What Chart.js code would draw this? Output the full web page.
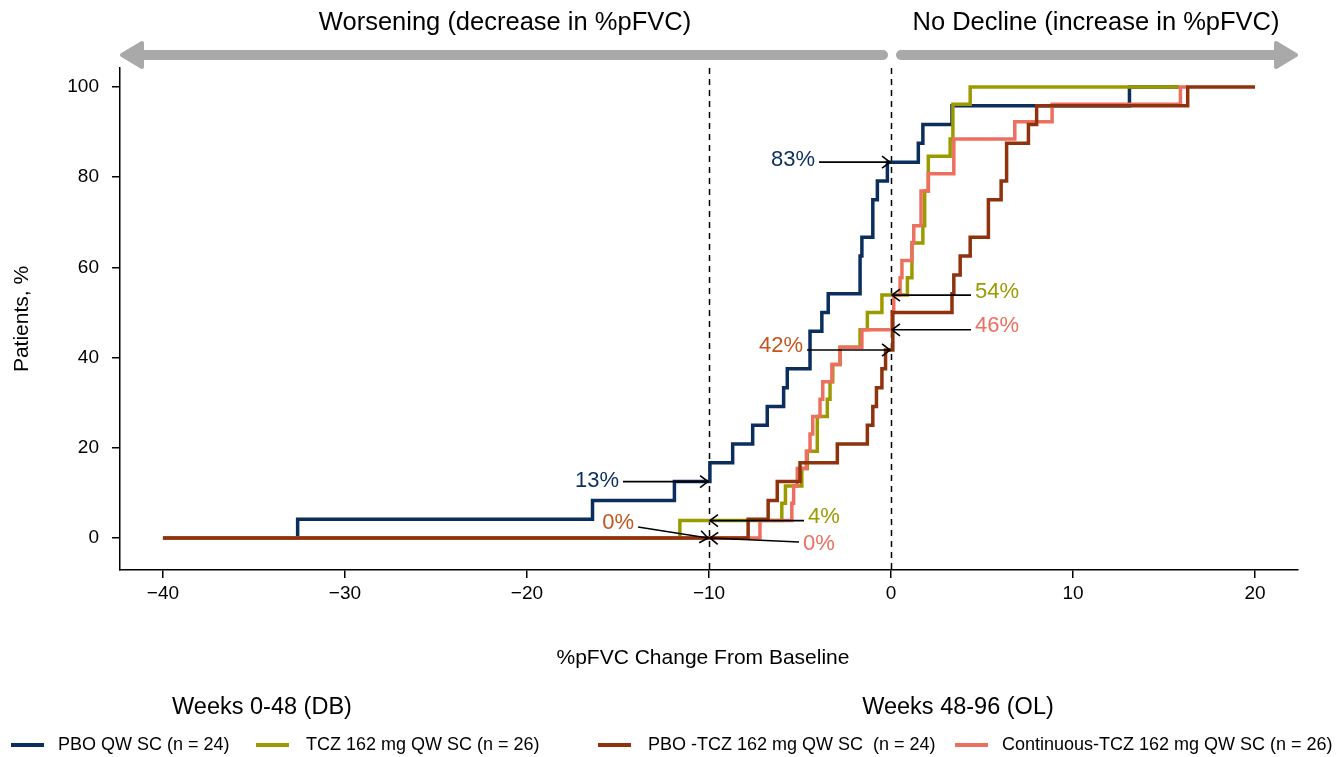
<!DOCTYPE html>
<html>
<head>
<meta charset="utf-8">
<script src="https://cdn.jsdelivr.net/npm/chart.js@4.4.1/dist/chart.umd.min.js"></script>
<style>
  html, body { margin: 0; padding: 0; background: #fff; }
</style>
</head>
<body>
<canvas id="grafico" width="1342" height="757"></canvas>
<script>
// ================= DADOS (curvas cumulativas) =================
// PBO QW SC (n = 24)
const pboX = [-40, -32.6, -16.4, -11.9, -9.95, -8.7, -7.6, -6.8, -5.9, -5.7, -4.45, -3.8, -3.45, -1.7, -1.6, -1.0, -0.75, -0.2, 1.5, 1.75, 3.35, 13.1, 15.8];
const pboY = [0, 4.17, 8.33, 12.5, 16.67, 20.83, 25, 29.17, 33.33, 37.5, 45.83, 50, 54.17, 62.5, 66.67, 75, 79.17, 83.33, 87.5, 91.67, 95.83, 100, 100];

// TCZ 162 mg QW SC (n = 26)
const tczX = [-40, -11.6, -6.0, -5.8, -4.9, -4.6, -4.05, -3.5, -3.35, -3.2, -2.8, -1.7, -1.3, -0.5, 0.9, 1.15, 1.75, 1.85, 2.05, 3.25, 3.4, 4.35, 15.8];
const tczY = [0, 3.85, 7.69, 11.54, 15.38, 19.23, 26.92, 30.77, 34.62, 38.46, 42.31, 46.15, 50, 53.85, 57.69, 65.38, 69.23, 76.92, 84.62, 88.46, 96.15, 100, 100];

// PBO -TCZ 162 mg QW SC (n = 24)
const pboTczX = [-40, -7.85, -6.75, -6.25, -5.0, -2.95, -1.3, -1.0, -0.8, -0.5, -0.3, 0.1, 3.35, 3.45, 3.8, 4.35, 5.35, 6.05, 6.35, 7.55, 8.0, 16.3, 20];
const pboTczY = [0, 4.17, 8.33, 12.5, 16.67, 20.83, 25, 29.17, 33.33, 37.5, 41.67, 50, 54.17, 58.33, 62.5, 66.67, 75, 79.17, 87.5, 91.67, 95.83, 100, 100];

// Continuous-TCZ 162 mg QW SC (n = 26)
const contX = [-40, -7.2, -5.45, -5.35, -5.15, -4.65, -4.45, -4.3, -3.9, -3.75, -3.25, -2.8, -1.6, 0.05, 0.15, 0.5, 0.6, 1.15, 1.25, 1.65, 2.05, 3.45, 6.8, 8.85, 15.9, 16.3];
const contY = [0, 3.85, 7.69, 11.54, 15.38, 19.23, 23.08, 26.92, 30.77, 34.62, 38.46, 42.31, 46.15, 50, 53.85, 57.69, 61.54, 65.38, 69.23, 76.92, 80.77, 88.46, 92.31, 96.15, 100, 100];

const nomes = ['PBO QW SC (n = 24)', 'TCZ 162 mg QW SC (n = 26)', 'PBO -TCZ 162 mg QW SC  (n = 24)', 'Continuous-TCZ 162 mg QW SC (n = 26)'];
const grupos = ['Weeks 0-48 (DB)', 'Weeks 48-96 (OL)'];
const xTicks = [-40, -30, -20, -10, 0, 10, 20];
const yTicks = [0, 20, 40, 60, 80, 100];
const linhasRef = [-10, 0];

// ================= CORES / FONTES =================
const COR_PBO = '#0b2e5e';
const COR_TCZ = '#9b9b00';
const COR_PBOTCZ = '#8e330e';
const COR_CONT = '#ec6f5f';
const COR_ROTULO_PBOTCZ = '#c4561c';
const FONTE = '"Liberation Sans", Arial, Helvetica, sans-serif';

function pares(xs, ys) {
  return xs.map((x, i) => ({ x: x, y: ys[i] }));
}

// rótulos com seta (alvo em unidades do gráfico)
const marcadores = [
  { txt: '83%', cor: COR_PBO, x: 0, y: 83.33, lado: -1, comp: 72, dy: 0, tdy: -2 },
  { txt: '13%', cor: COR_PBO, x: -10, y: 12.5, lado: -1, comp: 86, dy: 0, tdy: -1 },
  { txt: '42%', cor: COR_ROTULO_PBOTCZ, x: 0, y: 41.67, lado: -1, comp: 84, dy: 0, tdy: -4 },
  { txt: '54%', cor: COR_TCZ, x: 0, y: 53.85, lado: 1, comp: 80, dy: 0, tdy: -3 },
  { txt: '46%', cor: COR_CONT, x: 0, y: 46.15, lado: 1, comp: 80, dy: 0, tdy: -4 },
  { txt: '4%', cor: COR_TCZ, x: -10, y: 3.85, lado: 1, comp: 95, dy: 0, tdy: -4 },
  { txt: '0%', cor: COR_CONT, x: -10, y: 0, lado: 1, comp: 90, dy: 4, tdy: 2 },
  { txt: '0%', cor: COR_ROTULO_PBOTCZ, x: -10, y: 0, lado: -1, comp: 71, dy: -11, tdy: -4 }
];

function seta(ctx, x0, y0, x1, y1) {
  ctx.strokeStyle = '#000';
  ctx.lineWidth = 1.6;
  ctx.beginPath();
  ctx.moveTo(x0, y0);
  ctx.lineTo(x1, y1);
  ctx.stroke();
  const ang = Math.atan2(y1 - y0, x1 - x0);
  const L = 10;
  ctx.beginPath();
  ctx.moveTo(x1 - L * Math.cos(ang - 0.65), y1 - L * Math.sin(ang - 0.65));
  ctx.lineTo(x1, y1);
  ctx.lineTo(x1 - L * Math.cos(ang + 0.65), y1 - L * Math.sin(ang + 0.65));
  ctx.stroke();
}

function setaCinza(ctx, xA, xB, y, pontaEsq) {
  // seta grossa cinza no topo
  ctx.strokeStyle = '#a9a9a9';
  ctx.fillStyle = '#a9a9a9';
  ctx.lineWidth = 10;
  ctx.lineCap = 'round';
  ctx.beginPath();
  ctx.moveTo(xA, y);
  ctx.lineTo(xB, y);
  ctx.stroke();
  ctx.lineCap = 'butt';
  const tip = pontaEsq ? xA - 12 : xB + 12;
  const s = pontaEsq ? 1 : -1;
  ctx.lineJoin = 'round';
  ctx.lineWidth = 4;
  ctx.beginPath();
  ctx.moveTo(tip, y);
  ctx.lineTo(tip + s * 20, y - 12);
  ctx.lineTo(tip + s * 20, y + 12);
  ctx.closePath();
  ctx.fill();
  ctx.stroke();
}

// ================= PLUGIN DE DESENHO =================
const extras = {
  id: 'extras',
  beforeDatasetsDraw(chart) {
    const { ctx, chartArea, scales } = chart;
    ctx.save();
    ctx.strokeStyle = '#000';
    ctx.lineWidth = 1.5;
    ctx.setLineDash([6, 5]);
    linhasRef.forEach(v => {
      const px = Math.round(scales.x.getPixelForValue(v)) + 0.5;
      ctx.beginPath();
      ctx.moveTo(px, chartArea.top);
      ctx.lineTo(px, chartArea.bottom);
      ctx.stroke();
    });
    ctx.restore();
  },
  afterDatasetsDraw(chart) {
    const { ctx, scales } = chart;
    ctx.save();
    ctx.font = '22px ' + FONTE;
    ctx.textBaseline = 'middle';
    marcadores.forEach(m => {
      const px = scales.x.getPixelForValue(m.x);
      const py = scales.y.getPixelForValue(m.y);
      const ix = px + m.lado * m.comp;
      const iy = py + m.dy;
      seta(ctx, ix, iy, px + (m.lado > 0 ? 1 : -1), py);
      ctx.fillStyle = m.cor;
      ctx.textAlign = m.lado > 0 ? 'left' : 'right';
      ctx.fillText(m.txt, ix + m.lado * 4, iy + m.tdy);
    });
    ctx.restore();
  },
  afterDraw(chart) {
    const { ctx, chartArea } = chart;
    ctx.save();
    // setas e textos do topo
    setaCinza(ctx, 134, 883, 55, true);
    setaCinza(ctx, 901, 1284, 55, false);
    ctx.fillStyle = '#000';
    ctx.font = '25.5px ' + FONTE;
    ctx.textAlign = 'center';
    ctx.textBaseline = 'middle';
    ctx.fillText('Worsening (decrease in %pFVC)', 505, 23);
    ctx.fillText('No Decline (increase in %pFVC)', 1096, 23);

    // títulos dos eixos
    ctx.font = '21px ' + FONTE;
    ctx.fillText('%pFVC Change From Baseline', (chartArea.left + chartArea.right) / 2 - 6, 658);
    ctx.save();
    ctx.translate(22, (chartArea.top + chartArea.bottom) / 2);
    ctx.rotate(-Math.PI / 2);
    ctx.fillText('Patients, %', 0, 0);
    ctx.restore();

    // legenda
    ctx.font = '23.5px ' + FONTE;
    ctx.fillText(grupos[0], 262, 708);
    ctx.fillText(grupos[1], 958, 708);
    const leg = [
      { x: 11, tx: 58 },
      { x: 256, tx: 306 },
      { x: 598, tx: 648 },
      { x: 955, tx: 1002 }
    ];
    ctx.font = '18px ' + FONTE;
    ctx.textAlign = 'left';
    chart.data.datasets.forEach((ds, i) => {
      const it = leg[i];
      ctx.strokeStyle = ds.borderColor;
      ctx.lineWidth = 4;
      ctx.beginPath();
      ctx.moveTo(it.x, 745);
      ctx.lineTo(it.x + 33, 745);
      ctx.stroke();
      ctx.fillStyle = '#000';
      ctx.fillText(ds.label, it.tx, 745);
    });
    ctx.restore();
  }
};

function serie(label, xs, ys, cor, ordem) {
  return {
    label: label,
    data: pares(xs, ys),
    borderColor: cor,
    backgroundColor: cor,
    borderWidth: 3.5,
    stepped: true,
    pointRadius: 0,
    fill: false,
    order: ordem
  };
}

const ctx = document.getElementById('grafico').getContext('2d');
const grafico = new Chart(ctx, {
  type: 'line',
  data: {
    datasets: [
      serie(nomes[0], pboX, pboY, COR_PBO, 3),
      serie(nomes[1], tczX, tczY, COR_TCZ, 2),
      serie(nomes[2], pboTczX, pboTczY, COR_PBOTCZ, 0),
      serie(nomes[3], contX, contY, COR_CONT, 1)
    ]
  },
  options: {
    responsive: false,
    animation: false,
    devicePixelRatio: 1,
    layout: { padding: { left: 0, right: 44, top: 68, bottom: 147 } },
    plugins: {
      legend: { display: false },
      tooltip: { enabled: false }
    },
    scales: {
      x: {
        type: 'linear',
        min: -42.36,
        max: 22.36,
        afterBuildTicks: s => { s.ticks = xTicks.map(v => ({ value: v })); },
        afterFit: s => { s.height = 40; },
        border: { display: true, color: '#000', width: 1.5 },
        grid: { drawOnChartArea: false, drawTicks: true, tickLength: 8, color: '#000', lineWidth: 1.5 },
        ticks: {
          color: '#000',
          font: { family: FONTE, size: 19 },
          padding: 4,
          maxRotation: 0,
          callback: v => (v < 0 ? '\u2212' + Math.abs(v) : String(v))
        }
      },
      y: {
        type: 'linear',
        min: -7.1,
        max: 104.2,
        afterBuildTicks: s => { s.ticks = yTicks.map(v => ({ value: v })); },
        afterFit: s => { s.width = 120; },
        border: { display: true, color: '#000', width: 1.5 },
        grid: { drawOnChartArea: false, drawTicks: true, tickLength: 8, color: '#000', lineWidth: 1.5 },
        ticks: {
          color: '#000',
          font: { family: FONTE, size: 19 },
          padding: 13
        }
      }
    }
  },
  plugins: [extras]
});
</script>
</body>
</html>
